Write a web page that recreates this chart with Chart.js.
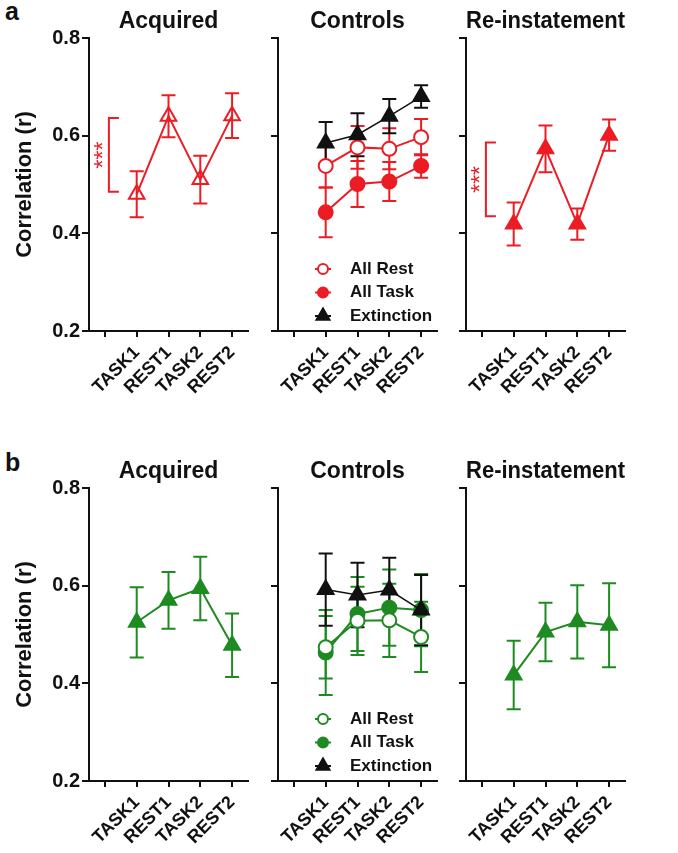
<!DOCTYPE html>
<html>
<head>
<meta charset="utf-8">
<script src="https://cdn.jsdelivr.net/npm/chart.js@4.4.0/dist/chart.umd.min.js"></script>
<style>
  body { margin: 0; background: #fff; width: 678px; height: 853px; position: relative; overflow: hidden; font-family: Arial, "Liberation Sans", sans-serif; }
  canvas { position: absolute; }
  .letter { position: absolute; font-weight: bold; font-size: 25px; color: #111; }
</style>
</head>
<body>
<div class="letter" style="left:5px; top:-3px">a</div>
<div class="letter" style="left:5px; top:448px">b</div>
<canvas id="aAcq" width="259" height="401" style="left:0px; top:0px"></canvas>
<canvas id="aCtl" width="183" height="401" style="left:265px; top:0px"></canvas>
<canvas id="aRei" width="183" height="401" style="left:453px; top:0px"></canvas>
<canvas id="bAcq" width="259" height="401" style="left:0px; top:450px"></canvas>
<canvas id="bCtl" width="183" height="401" style="left:265px; top:450px"></canvas>
<canvas id="bRei" width="183" height="401" style="left:453px; top:450px"></canvas>
<script>
// categorie (la prima è vuota, come nel grafico originale)
const categories = ['', 'TASK1', 'REST1', 'TASK2', 'REST2'];
const yTicks = [0.2, 0.4, 0.6, 0.8];

// riga a (rosso)
const aAcquired = [0.480, 0.640, 0.510, 0.641];
const aAcquiredErr = [0.047, 0.043, 0.049, 0.046];
const aRest = [0.538, 0.576, 0.573, 0.597];
const aRestErr = [0.044, 0.044, 0.042, 0.037];
const aTask = [0.443, 0.501, 0.506, 0.538];
const aTaskErr = [0.051, 0.047, 0.040, 0.024];
const aExtinction = [0.585, 0.602, 0.640, 0.680];
const aExtinctionErr = [0.043, 0.044, 0.035, 0.023];
const aReinst = [0.419, 0.573, 0.419, 0.601];
const aReinstErr = [0.044, 0.048, 0.032, 0.032];
const aSigAcquired = [0.636, 0.485];
const aSigReinst = [0.586, 0.435];

// riga b (verde)
const bAcquired = [0.525, 0.570, 0.594, 0.478];
const bAcquiredErr = [0.072, 0.058, 0.065, 0.065];
const bRest = [0.474, 0.528, 0.529, 0.495];
const bRestErr = [0.064, 0.070, 0.075, 0.072];
const bTask = [0.463, 0.542, 0.555, 0.550];
const bTaskErr = [0.087, 0.076, 0.078, 0.074];
const bExtinction = [0.592, 0.581, 0.591, 0.550];
const bExtinctionErr = [0.074, 0.066, 0.066, 0.072];
const bReinst = [0.417, 0.505, 0.526, 0.519];
const bReinstErr = [0.070, 0.060, 0.075, 0.086];

const RED = '#ec1c24';
const GREEN = '#1e8a22';
const BLACK = '#111';
const FONT = 'Arial, "Liberation Sans", sans-serif';

// Barre d'errore disegnate sotto le linee
const errorBars = {
  id: 'errorBars',
  beforeDatasetsDraw(chart) {
    const ctx = chart.ctx, y = chart.scales.y;
    chart.data.datasets.forEach((ds, i) => {
      if (!ds.err) return;
      const meta = chart.getDatasetMeta(i);
      ctx.save();
      ctx.strokeStyle = ds.borderColor;
      ctx.lineWidth = 2;
      meta.data.forEach((pt, j) => {
        const v = ds.data[j], e = ds.err[j];
        if (v == null) return;
        const x = pt.x, top = y.getPixelForValue(v + e), bot = y.getPixelForValue(v - e);
        ctx.beginPath();
        ctx.moveTo(x, top); ctx.lineTo(x, bot);
        ctx.moveTo(x - 7, top); ctx.lineTo(x + 7, top);
        ctx.moveTo(x - 7, bot); ctx.lineTo(x + 7, bot);
        ctx.stroke();
      });
      ctx.restore();
    });
  }
};

// Legenda interna (pannello Controls)
const markerLegend = {
  id: 'markerLegend',
  afterDraw(chart, args, opts) {
    if (!opts.show) return;
    const ctx = chart.ctx, a = chart.chartArea;
    chart.data.datasets.forEach((ds, i) => {
      const x = a.left + opts.x, y = a.top + opts.y + i * opts.gap;
      ctx.save();
      ctx.strokeStyle = ds.borderColor;
      ctx.lineWidth = 2;
      ctx.beginPath(); ctx.moveTo(x - 8, y); ctx.lineTo(x + 8, y); ctx.stroke();
      ctx.fillStyle = ds.pointBackgroundColor;
      Chart.helpers.drawPoint(ctx, { pointStyle: ds.pointStyle, radius: ds.legendRadius, borderWidth: 2, rotation: 0 }, x, y);
      ctx.fillStyle = BLACK;
      ctx.font = 'bold 17px ' + FONT;
      ctx.textAlign = 'left';
      ctx.textBaseline = 'middle';
      ctx.fillText(ds.label, a.left + opts.textX, y);
      ctx.restore();
    });
  }
};

// Parentesi di significatività con ***
const sigBracket = {
  id: 'sigBracket',
  afterDatasetsDraw(chart, args, opts) {
    if (!opts.range) return;
    const ctx = chart.ctx;
    const x0 = chart.scales.x.getPixelForValue(0) + 4;
    const yT = chart.scales.y.getPixelForValue(opts.range[0]);
    const yB = chart.scales.y.getPixelForValue(opts.range[1]);
    ctx.save();
    ctx.strokeStyle = RED;
    ctx.lineWidth = 2;
    ctx.beginPath();
    ctx.moveTo(x0 + 10, yT); ctx.lineTo(x0, yT); ctx.lineTo(x0, yB); ctx.lineTo(x0 + 10, yB);
    ctx.stroke();
    ctx.translate(x0 - 4, (yT + yB) / 2);
    ctx.rotate(-Math.PI / 2);
    ctx.fillStyle = RED;
    ctx.font = '23px ' + FONT;
    ctx.textAlign = 'center';
    ctx.textBaseline = 'middle';
    ctx.fillText('***', 0, 0);
    ctx.restore();
  }
};

function series(label, vals, errs, color, style, filled, order) {
  const tri = style === 'triangle';
  return {
    label: label,
    data: [null].concat(vals),
    err: [null].concat(errs),
    borderColor: color,
    borderWidth: color === BLACK ? 1.5 : 2,
    pointStyle: style,
    pointRadius: tri ? 9 : 7,
    legendRadius: tri ? 7.5 : 5,
    pointBorderWidth: 2,
    pointBorderColor: color,
    pointBackgroundColor: filled ? color : (tri ? 'rgba(255,255,255,0)' : '#fff'),
    fill: false,
    tension: 0,
    order: order
  };
}

function makePanel(id, title, datasets, withLabels, legend, sig) {
  new Chart(document.getElementById(id), {
    type: 'line',
    data: { labels: categories, datasets: datasets },
    plugins: [errorBars, markerLegend, sigBracket],
    options: {
      responsive: false,
      animation: false,
      events: [],
      layout: { padding: { left: 0, right: 6, top: 0, bottom: 0 } },
      plugins: {
        legend: { display: false },
        tooltip: { enabled: false },
        title: {
          display: true, text: title, fullSize: false, color: BLACK,
          font: { family: FONT, size: 23, weight: 'bold', lineHeight: 1 },
          padding: { top: 10, bottom: 5 }
        },
        markerLegend: legend ? { show: true, x: 45, y: 231, gap: 23.5, textX: 72 } : { show: false },
        sigBracket: { range: sig }
      },
      scales: {
        x: {
          type: 'category',
          offset: true,
          afterFit: s => { s.height = 70; },
          grid: { display: true, drawOnChartArea: false, drawTicks: true, tickLength: 6, offset: false, color: BLACK, lineWidth: 2 },
          border: { display: true, color: BLACK, width: 2 },
          ticks: { autoSkip: false, maxRotation: 45, minRotation: 45, padding: 5, color: BLACK, font: { family: FONT, size: 18, weight: 'bold' } }
        },
        y: {
          min: 0.2, max: 0.8,
          afterBuildTicks: s => { s.ticks = yTicks.map(v => ({ value: v })); },
          afterFit: s => { s.width = withLabels ? 89 : 13; },
          grid: { display: true, drawOnChartArea: false, drawTicks: true, tickLength: 7, color: BLACK, lineWidth: 2 },
          border: { display: true, color: BLACK, width: 2 },
          ticks: { display: withLabels, padding: 2, color: BLACK, font: { family: FONT, size: 20, weight: 'bold' } },
          title: {
            display: withLabels, text: 'Correlation (r)', color: BLACK,
            font: { family: FONT, size: 22, weight: 'bold' },
            padding: { top: 12, bottom: 0 }
          }
        }
      }
    }
  });
}

makePanel('aAcq', 'Acquired', [series('Acquired', aAcquired, aAcquiredErr, RED, 'triangle', false, 0)], true, false, aSigAcquired);
makePanel('aCtl', 'Controls', [
  series('All Rest', aRest, aRestErr, RED, 'circle', false, 1),
  series('All Task', aTask, aTaskErr, RED, 'circle', true, 2),
  series('Extinction', aExtinction, aExtinctionErr, BLACK, 'triangle', true, 0)
], false, true, null);
makePanel('aRei', 'Re-instatement', [series('Re-instatement', aReinst, aReinstErr, RED, 'triangle', true, 0)], false, false, aSigReinst);

makePanel('bAcq', 'Acquired', [series('Acquired', bAcquired, bAcquiredErr, GREEN, 'triangle', true, 0)], true, false, null);
makePanel('bCtl', 'Controls', [
  series('All Rest', bRest, bRestErr, GREEN, 'circle', false, 1),
  series('All Task', bTask, bTaskErr, GREEN, 'circle', true, 2),
  series('Extinction', bExtinction, bExtinctionErr, BLACK, 'triangle', true, 0)
], false, true, null);
makePanel('bRei', 'Re-instatement', [series('Re-instatement', bReinst, bReinstErr, GREEN, 'triangle', true, 0)], false, false, null);
</script>
</body>
</html>
